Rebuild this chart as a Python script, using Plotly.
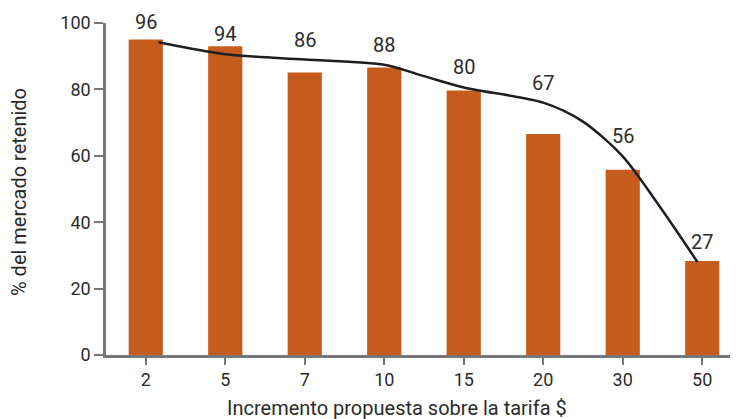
import numpy as np
import plotly.graph_objects as go

# Data
categories = ["2", "5", "7", "10", "15", "20", "30", "50"]
bar_values = [95.0, 93.0, 85.1, 86.6, 79.7, 66.6, 55.8, 28.3]
label_texts = ["96", "94", "86", "88", "80", "67", "56", "27"]
trend_pos = [0.16, 1, 2, 3, 3.5, 4, 5, 5.5, 6, 6.5, 6.94]
trend_values = [94.2, 90.6, 89.0, 87.4, 84.0, 80.6, 76.0, 70.3, 59.8, 43.5, 28.0]
y_ticks = [0, 20, 40, 60, 80, 100]
x_title = "Incremento propuesta sobre la tarifa $"
y_title = "% del mercado retenido"

BAR_COLOR = "#C55B1C"
TEXT_COLOR = "#2b2b2b"
AXIS_COLOR = "#77777a"
FONT = "Roboto"

x_idx = list(range(len(categories)))

fig = go.Figure()
fig.add_trace(go.Bar(
    x=x_idx, y=bar_values, width=0.43,
    marker=dict(color=BAR_COLOR, line=dict(width=0)),
    hoverinfo="skip", showlegend=False,
))
fig.add_trace(go.Scatter(
    x=trend_pos, y=trend_values, mode="lines",
    line=dict(color="#1e1e1e", width=2.5, shape="spline", smoothing=0.8),
    hoverinfo="skip", showlegend=False,
))

label_anchor = np.interp(x_idx, trend_pos, trend_values)
for i, t in enumerate(label_texts):
    fig.add_annotation(
        x=i, y=float(label_anchor[i]), yshift=20, text=t, showarrow=False,
        font=dict(family=FONT, size=20, color=TEXT_COLOR),
        xanchor="center", yanchor="middle",
    )

# axis titles as annotations for exact placement
fig.add_annotation(
    xref="paper", yref="paper", x=0.461, y=0, yshift=-53,
    text=x_title, showarrow=False, xanchor="center", yanchor="middle",
    font=dict(family=FONT, size=20, color=TEXT_COLOR),
)
fig.add_annotation(
    xref="paper", yref="paper", x=0, xshift=-87, y=0.5, yshift=-3,
    text=y_title, textangle=-90, showarrow=False,
    xanchor="center", yanchor="middle",
    font=dict(family=FONT, size=20, color=TEXT_COLOR),
)

fig.update_layout(
    width=730, height=411,
    margin=dict(l=98, r=0, t=15, b=64),
    paper_bgcolor="white", plot_bgcolor="white",
    font=dict(family=FONT, size=18, color=TEXT_COLOR),
    xaxis=dict(
        range=[-0.5, 7.45],
        tickmode="array", tickvals=x_idx, ticktext=categories,
        tickson="boundaries", ticks="outside", ticklen=7, tickwidth=2,
        tickcolor=AXIS_COLOR,
        showline=True, linecolor=AXIS_COLOR, linewidth=2.5,
        showgrid=False, zeroline=False,
        tickfont=dict(family=FONT, size=18, color=TEXT_COLOR),
    ),
    yaxis=dict(
        range=[0, 100],
        tickmode="array", tickvals=y_ticks,
        ticks="outside", ticklen=9, tickwidth=2, tickcolor=AXIS_COLOR,
        showline=True, linecolor=AXIS_COLOR, linewidth=2.5,
        showgrid=False, zeroline=False,
        tickfont=dict(family=FONT, size=18, color=TEXT_COLOR),
    ),
)

fig.write_html("out.html")
